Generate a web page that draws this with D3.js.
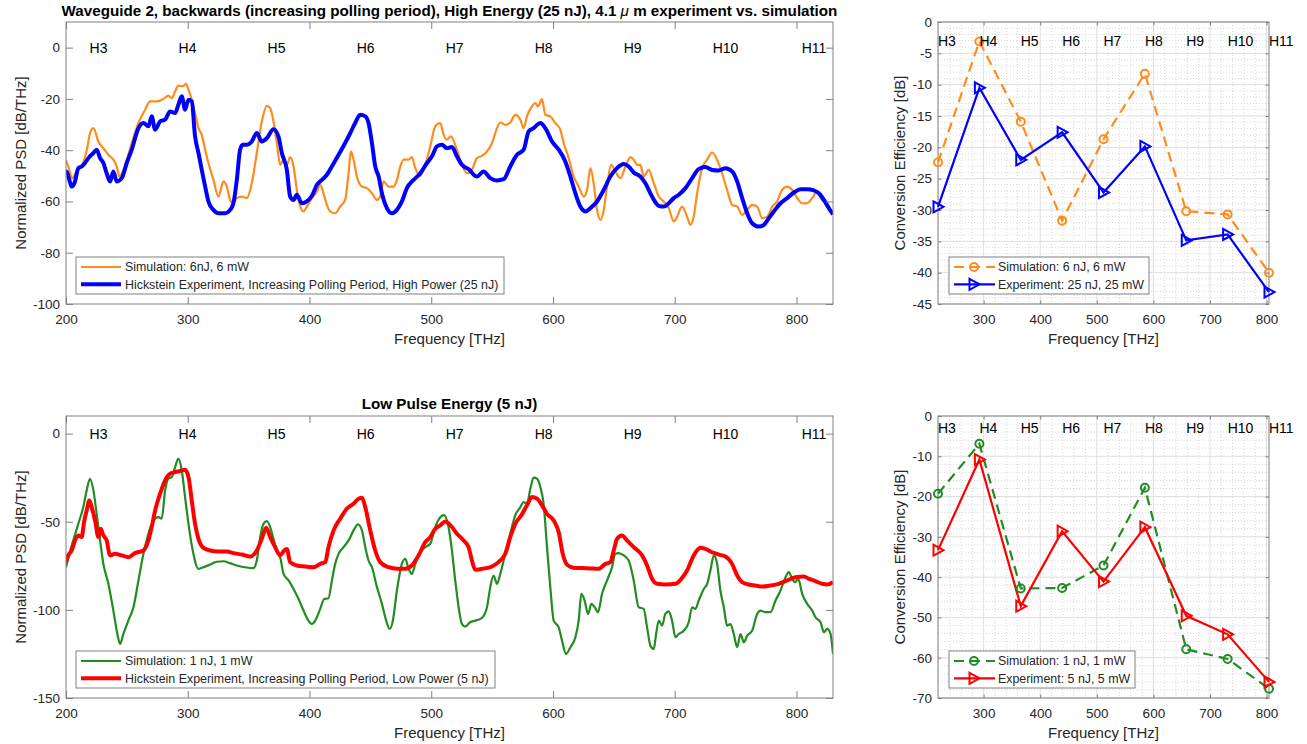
<!DOCTYPE html>
<html><head><meta charset="utf-8">
<script src="https://cdn.jsdelivr.net/npm/d3@7"></script>
<style>
body{margin:0;background:#fff}
text{font-family:"Liberation Sans",Arial,Helvetica,sans-serif}
</style>
</head><body>
<svg id="c" width="1307" height="744"></svg>
<script>
// ---------------- DATA ----------------
const harmonicLabels = ["H3","H4","H5","H6","H7","H8","H9","H10","H11"];
const harmonicFreq = [219.36, 292.48, 365.60, 438.72, 511.84, 584.96, 658.08, 731.20, 804.32];

const xTicksSpec = [200,300,400,500,600,700,800];
const yTicksSpecTop = [0,-20,-40,-60,-80,-100];
const yTicksSpecBot = [0,-50,-100,-150];
const xTicksCE = [300,400,500,600,700,800];
const yTicksCETop = [0,-5,-10,-15,-20,-25,-30,-35,-40,-45];
const yTicksCEBot = [0,-10,-20,-30,-40,-50,-60,-70];

// Conversion efficiency (dB) at H3..H11
const ceSimHigh = [-22.4, -3.1, -15.9, -31.7, -18.7, -8.25, -30.2, -30.7, -40.0];
const ceExpHigh = [-29.5, -10.5, -22.0, -17.6, -27.2, -19.85, -34.85, -33.9, -43.1];
const ceSimLow  = [-19.3, -6.9, -42.8, -42.7, -37.1, -17.8, -57.9, -60.3, -67.7];
const ceExpLow  = [-33.3, -10.8, -47.2, -28.6, -41.1, -27.6, -49.6, -54.2, -66.0];

// Spectra [frequency THz, PSD dB/THz]
const simHigh = [[200,-44],[202,-46.5],[205,-51],[208,-49],[211,-47],[214,-45],[217,-40],[220,-33],[222.5,-31.4],[226.6,-36.6],[230.7,-39.2],[234.8,-41.8],[238.9,-43.7],[241.7,-46.4],[243.8,-50.3],[246,-49],[249.9,-43.7],[254,-37.2],[259.5,-29.4],[265,-24.2],[269,-21],[274.5,-21],[280,-20.05],[284.1,-18.7],[286.9,-19.7],[289.6,-17.1],[292.3,-14.85],[295.9,-15.1],[298.6,-14.1],[300.6,-16.4],[303.3,-20.3],[306,-25.5],[308.8,-31.4],[311.5,-34],[314.3,-39.8],[317,-45],[321.1,-51.6],[325.2,-58.1],[329.3,-52.2],[332.1,-54.2],[334.8,-59.4],[337.5,-60.7],[340.3,-58.7],[344.4,-58.1],[348.5,-58.7],[352.6,-52.9],[356.7,-41.1],[360.8,-28.8],[365,-22.7],[367.7,-23.6],[370.4,-28.8],[373.2,-37.2],[375.9,-45.7],[378.7,-43.7],[381.4,-45.7],[384.1,-42.7],[386.9,-46.35],[389.6,-55.5],[392.4,-62],[395.1,-63.9],[397.8,-62],[402,-58.7],[406.1,-56.1],[408.8,-53.5],[411.5,-56.8],[414.3,-61.3],[417,-63.9],[421.1,-64.6],[425.2,-62],[429.3,-59.4],[432.1,-49],[434,-40.5],[436.2,-43.7],[438.9,-50.3],[443.1,-54.2],[447.2,-54.8],[451.3,-56.8],[455.4,-59.4],[458.1,-58.1],[460.9,-52.2],[465,-54.2],[469.1,-54.2],[471.8,-51.6],[474.6,-46.35],[477.3,-43.7],[481.4,-43.7],[484.1,-42.7],[486.9,-47],[491,-50],[495.1,-45.7],[499.2,-38.5],[503.3,-30.7],[507.4,-29.4],[510.2,-34],[512.9,-35.9],[516,-34.6],[521.1,-39.8],[525.2,-45.7],[529.3,-49],[533.4,-47.7],[537.5,-43.1],[541.6,-42.2],[545.8,-40.5],[549.9,-37.2],[554,-31.4],[556.7,-29.2],[560.8,-30.1],[564.9,-29.2],[569,-26.2],[573.2,-28.1],[575.9,-31.4],[578.6,-26.8],[582.7,-22.9],[585.5,-21.6],[587.7,-22.9],[591,-20.05],[593.7,-26.2],[597.8,-26.8],[601.9,-29.4],[606,-32],[608.8,-37.2],[612.9,-43.1],[617,-50.3],[621.1,-54.2],[625.2,-58.1],[628,-55.5],[630.7,-47],[633.4,-52.9],[636.2,-63.3],[638.9,-67.2],[641.7,-63.3],[644.4,-54.2],[647.7,-45.7],[651.2,-48.3],[655.4,-50.9],[659.5,-46.4],[663.6,-42.7],[666.3,-43.7],[669.1,-45.7],[671.8,-45.7],[674.5,-50.3],[678.6,-47.7],[682.8,-52.9],[686.9,-58.1],[691,-60],[695.1,-62.6],[699.2,-67.8],[702,-65.9],[706,-62],[710.1,-65.9],[712.9,-69.1],[715.6,-65.9],[718.4,-56.8],[722.5,-47],[726.6,-43.7],[730.7,-40.9],[734.8,-43.7],[738.9,-49],[743,-55.5],[747.1,-61.3],[751.3,-62],[755.4,-65.2],[759.5,-63.3],[763.6,-61.3],[767.7,-62],[771.8,-66.5],[776,-65.9],[780.1,-62],[784.1,-60],[788.2,-55.5],[792.4,-54.2],[796.5,-55.5],[800.6,-58.7],[804.7,-60.7],[808.8,-60.7],[812.9,-58.7],[817,-56.1],[819.8,-58.7],[823.9,-60.7],[830,-65]];

const expHigh = [[200,-50],[200.5,-48.3],[202.7,-51.6],[204.7,-54.2],[207.4,-52.2],[210.1,-47],[212.9,-46.35],[215.6,-45],[218.4,-43.1],[222.5,-41.1],[225.2,-39.8],[228,-43.1],[230.7,-45],[233.4,-49],[236.2,-52.2],[238.9,-48.3],[241.7,-52.2],[245.8,-50.9],[249.9,-45],[254,-39.8],[259.5,-31.4],[263.6,-29.4],[267.7,-30.7],[270.4,-26.8],[273.2,-32],[277.3,-28.8],[281.4,-28.1],[285.5,-24.9],[289.6,-25.5],[292.3,-22.3],[295.1,-19],[297.8,-24.2],[300.6,-20.3],[303.3,-21],[306,-34.6],[308.8,-41.1],[311.5,-47.7],[314.3,-54.2],[317,-60],[321.1,-63.3],[325.2,-64.6],[330.7,-64.6],[334.8,-63.3],[337.5,-60.7],[340.3,-51.6],[343,-39.8],[345.2,-37.9],[348.5,-37.9],[352.6,-36.6],[356.7,-33.3],[360.8,-36.6],[365,-35.3],[370.4,-31.8],[374.5,-34.6],[377.3,-41.1],[381.4,-47.7],[384.1,-58.1],[386.9,-59.4],[389.6,-57.4],[393.7,-60.7],[397.8,-60],[402,-57.8],[406.1,-53.5],[410.2,-51.6],[414.3,-49.6],[418.4,-46.35],[423.9,-41.8],[429.3,-37.2],[433.5,-33.3],[437.5,-29.4],[441.7,-26.2],[445.8,-26.8],[448.5,-29.4],[451.3,-37.2],[454,-46.35],[456.8,-50.3],[459.5,-56.8],[463.6,-62.6],[467.7,-64.6],[471.8,-63.3],[475.9,-60],[480,-54.8],[485.5,-51.6],[491,-49],[496.5,-45],[500.6,-42.4],[504.7,-38.5],[508.8,-37.9],[512.9,-39.2],[517,-38.8],[521.1,-42.4],[525.2,-45.7],[530.7,-47.4],[537.5,-50.3],[543,-48.3],[548.5,-50.9],[554,-51.8],[559.5,-51.3],[564.9,-46.35],[570.4,-41.8],[575.9,-39.8],[580,-32.7],[584.1,-31.4],[589.6,-29.4],[593.7,-31.4],[599.2,-36.6],[604.7,-39.8],[610.1,-44.4],[614.3,-50.3],[618.4,-56.8],[622.5,-62],[626.6,-63.9],[630.7,-62.6],[636.2,-60],[641.7,-55.5],[647.1,-50.3],[652.6,-47],[658.1,-45.4],[662.2,-46.4],[666.3,-48.7],[671.8,-50.3],[675.9,-52.9],[681.4,-58.1],[686.9,-61.7],[691,-62],[695.1,-60.7],[699.2,-58.7],[703.3,-57.4],[708.8,-54.8],[714.3,-50.9],[719.7,-47.4],[725.2,-46.6],[730.7,-47.7],[736.2,-47.9],[741.7,-47],[747.1,-48.3],[751.3,-52.2],[755.4,-58.7],[759.5,-64.6],[763.6,-68.5],[769.1,-69.8],[773.2,-69.1],[777.3,-66.5],[781.4,-63.9],[786.9,-60.7],[792.4,-58.7],[797.9,-56.5],[803.4,-55.2],[808.8,-55.2],[814.3,-55.7],[818.4,-56.8],[822.5,-59.4],[826.6,-62.6],[830,-65]];

const simLow = [[200,-76],[201.9,-70.1],[206,-60.6],[210.1,-51.2],[214.2,-41.7],[217,-32.2],[219.7,-25.6],[222.5,-32.2],[225.2,-45.5],[228,-60.6],[230.7,-73.9],[234.8,-85.2],[238.9,-100.4],[242.2,-113.7],[244.4,-119.3],[247.1,-113.7],[251.2,-106.1],[255.4,-98.5],[259.5,-83.3],[263.6,-68.2],[267.7,-56.8],[271.8,-49.3],[275.9,-47.4],[278.6,-48.3],[281.4,-32.2],[284.1,-25.6],[286.9,-24.6],[289.6,-19],[292.3,-14.2],[295.1,-20.9],[297.8,-36],[300.6,-51.2],[304.1,-66.3],[308.8,-76.7],[312.9,-75.8],[318.4,-74.3],[323.9,-72.7],[329.3,-72.4],[334.8,-73.5],[340.3,-74.8],[347.1,-75.8],[354,-76.3],[356.7,-72],[359.5,-58.7],[362.2,-51.2],[365,-49.6],[367.7,-53],[370.4,-59.7],[373.2,-66.3],[375.9,-70.1],[378.7,-79.6],[382.8,-83.3],[386.9,-88.1],[391,-93.8],[395.1,-100.4],[399.2,-106.1],[402,-108],[404.7,-106.1],[408.8,-99.4],[412.1,-93.8],[415.6,-93.4],[418.4,-83.3],[421.1,-73.9],[423.9,-68.2],[428,-64.4],[432.1,-60.6],[436.2,-54.9],[439.8,-51.5],[443.1,-54.9],[445.8,-64.4],[448.5,-72],[451.3,-75.8],[455.4,-87.1],[459.5,-96.6],[463,-106.1],[465.8,-110.8],[468.5,-106.1],[471.8,-89],[475.9,-73.9],[478.7,-71],[481.4,-76.7],[484.1,-79.6],[486.9,-73.9],[491,-67.3],[495.1,-64.4],[499.2,-62.5],[503.3,-53],[507.4,-47.4],[510.5,-46.2],[514.2,-53],[517,-66.3],[519.7,-83.3],[522.5,-98.5],[525.2,-108],[527.9,-109.5],[532,-107],[536.2,-106.1],[541.6,-104.6],[545.8,-98.5],[548.5,-87.1],[551.2,-80.5],[554,-85.2],[556.7,-79.6],[560.8,-68.2],[564.9,-56.8],[569,-46.4],[573.2,-41.7],[575.9,-38.8],[578.6,-39.8],[581.4,-31.3],[584.1,-25],[586.9,-25.6],[589.6,-30.3],[592.3,-39.8],[595.1,-64.4],[597.8,-87.1],[600.6,-106.1],[604.7,-109.9],[607.4,-117.4],[610.7,-125],[614.3,-121.2],[618.4,-115.5],[621.1,-106.1],[623.3,-90.9],[626,-94.7],[628.8,-102.3],[631.5,-96.6],[634.3,-98.5],[637,-101.3],[640.3,-90.9],[644.4,-83.3],[648.5,-75.8],[651.2,-68.2],[653.9,-67.8],[658.1,-69.1],[662.2,-72],[666.3,-83.3],[670.4,-98.5],[674.5,-99.4],[677.3,-109.9],[680,-120.3],[682.8,-122.2],[684.7,-113.7],[686.9,-106.1],[689.6,-108.9],[692.3,-102.3],[695.1,-100.8],[697.8,-106.1],[700.6,-115.5],[703.3,-113.7],[707.4,-111.8],[711.5,-107],[714.3,-98.5],[717,-99.4],[719.7,-94.7],[723.9,-88.1],[726.6,-85.2],[729.3,-77.7],[732.1,-69.1],[734.8,-73.9],[737.5,-89],[740.3,-98.5],[743,-108.9],[745.8,-108],[748.5,-113.7],[751.3,-121.2],[754,-113.7],[756.8,-118.4],[759.5,-114.6],[763.6,-111.8],[767.7,-102.3],[770.4,-100.4],[774.5,-101.3],[778.7,-101.3],[782.8,-94.7],[786.9,-89],[791,-81.5],[793.7,-78.6],[796.5,-82.4],[798.7,-84.3],[801.4,-82.4],[804.7,-90.9],[808.8,-96.6],[812.9,-100.4],[815.6,-104.2],[819.8,-107],[822.5,-112.7],[825.2,-110.8],[828,-113.7],[830,-125]];

const expLow = [[200,-73],[201.9,-69.1],[204.7,-66.3],[207.4,-60.6],[210.1,-57.8],[212.9,-58.7],[214.8,-50.2],[217,-43.6],[219.2,-37.9],[221.1,-41.7],[223.9,-49.3],[226.6,-58.7],[228.5,-54],[230.7,-57.8],[233.4,-60.6],[236.2,-69.1],[240.3,-68.2],[245.8,-69.1],[251.2,-70.1],[256.7,-67.8],[263.6,-66.3],[267.7,-60.6],[270.4,-53],[273.2,-43.6],[277.3,-34.1],[281.4,-26.5],[285.5,-22.7],[289.6,-21.8],[293.7,-21.2],[297.8,-20.5],[300.6,-24.6],[303.3,-37.9],[306,-51.2],[308.8,-59.7],[312.9,-64.8],[318.4,-66.3],[325.2,-66.9],[332.1,-66.9],[337.5,-67.8],[344.4,-68.6],[351.2,-69.7],[356.7,-66.3],[360.8,-59.7],[364.4,-53.4],[367.7,-58.7],[371.8,-64.4],[375.9,-69.1],[379.2,-66.3],[381.4,-65.4],[384.1,-72.9],[389.6,-74.8],[396.5,-75.4],[403.3,-75.8],[408.8,-73.9],[412.9,-72.9],[415.6,-64.4],[419.8,-54.9],[425.2,-48.3],[430.7,-42.6],[436.2,-39.8],[440.3,-36.9],[443.1,-36.4],[445.8,-41.7],[449.9,-54.9],[454,-66.3],[458.1,-72.9],[465,-75.8],[471.8,-76.7],[478.7,-76.7],[484.1,-74.8],[489.6,-69.1],[495.1,-61.6],[499.2,-58.7],[503.3,-54],[507.4,-52.1],[511.5,-49.8],[517,-53],[521.1,-56.8],[526.6,-60.6],[530.7,-64.4],[533.4,-72],[536.2,-77.3],[541.6,-76.7],[549.9,-75.4],[556.7,-72],[560.8,-68.2],[564.9,-58.7],[569,-51.2],[574.5,-45.8],[578.6,-40.7],[582.7,-36],[586.9,-36.9],[591,-40.7],[595.1,-45.5],[600.6,-49.3],[604.7,-55.9],[608,-68.2],[611.5,-74.3],[617,-76.1],[623.8,-76.3],[630.7,-76.5],[637.5,-76.7],[643,-73.9],[647.1,-72.9],[649.9,-66.3],[652.6,-59.7],[656.7,-57.8],[660.8,-60.6],[666.3,-64.4],[673.2,-69.1],[677.3,-74.8],[681.4,-82.4],[685.5,-85.2],[692.3,-85.6],[700.6,-85.2],[704.7,-83],[710.1,-77.7],[715.6,-69.1],[721.1,-64.8],[725.2,-65.4],[730.7,-67.3],[736.2,-68.6],[741.7,-69.7],[747.1,-73.9],[751.3,-80.5],[755.4,-84.3],[760.8,-85.6],[766.3,-86.2],[771.8,-86.8],[778.7,-86.2],[785.5,-85.2],[792.4,-83.3],[799.2,-81.5],[806.1,-81.1],[810.2,-82.4],[815.6,-83.7],[821.1,-85.2],[825.2,-85.6],[830,-84.3]];

// ---------------- DRAWING ----------------
const svg = d3.select("#c");
const C_ORANGE = "#ff8c1a", C_BLUE = "#0000ff", C_GREEN = "#228b22", C_RED = "#ff0000";
const AX = "#262626", FRAME = "#808080";
const fmt = d => String(d);

function axes(g, X, Y, xt, yt, tl, pad) {
  const [x0, x1] = X.range(), [y1, y0] = Y.range();
  const style = sel => {
    sel.select(".domain").remove();
    sel.selectAll(".tick line").attr("stroke", FRAME).attr("stroke-width", 1);
    sel.selectAll(".tick text").attr("fill", AX).style("font-size", "13.5px")
      .style("font-family", '"Liberation Sans",Arial,sans-serif');
  };
  g.append("g").attr("transform", `translate(0,${y1})`)
    .call(d3.axisBottom(X).tickValues(xt).tickSize(-tl).tickPadding(10).tickFormat(fmt)).call(style);
  g.append("g").attr("transform", `translate(0,${y0})`)
    .call(d3.axisTop(X).tickValues(xt).tickSize(-tl).tickFormat("")).call(style);
  g.append("g").attr("transform", `translate(${x0},0)`)
    .call(d3.axisLeft(Y).tickValues(yt).tickSize(-tl).tickPadding(pad).tickFormat(fmt)).call(style);
  g.append("g").attr("transform", `translate(${x1},0)`)
    .call(d3.axisRight(Y).tickValues(yt).tickSize(-tl).tickFormat("")).call(style);
  g.append("rect").attr("x", x0).attr("y", y0).attr("width", x1 - x0).attr("height", y1 - y0)
    .attr("fill", "none").attr("stroke", FRAME).attr("stroke-width", 1);
}

function labels(g, cx, cy, xlab, ylabX, ylab, ybase) {
  g.append("text").attr("x", cx).attr("y", ybase).attr("text-anchor", "middle")
    .style("font-size", "15px").attr("fill", AX).text(xlab);
  g.append("text").attr("transform", `translate(${ylabX},${cy}) rotate(-90)`).attr("text-anchor", "middle")
    .style("font-size", "15px").attr("fill", AX).text(ylab);
}

function spectrumPanel(id, x0, x1, y0, y1, ydom, yt, sim, exp, simColor, expColor, legendTexts, legendW) {
  const g = svg.append("g");
  const X = d3.scaleLinear().domain([200, 830]).range([x0, x1]);
  const Y = d3.scaleLinear().domain(ydom).range([y1, y0]);
  g.append("clipPath").attr("id", id).append("rect").attr("x", x0).attr("y", y0).attr("width", x1 - x0).attr("height", y1 - y0);
  const line = d3.line().x(d => X(d[0])).y(d => Y(d[1])).curve(d3.curveMonotoneX);
  const pg = g.append("g").attr("clip-path", `url(#${id})`);
  pg.append("path").datum(sim).attr("d", line).attr("fill", "none").attr("stroke", simColor).attr("stroke-width", 2.2).attr("stroke-linejoin", "round");
  pg.append("path").datum(exp).attr("d", line).attr("fill", "none").attr("stroke", expColor).attr("stroke-width", 4).attr("stroke-linejoin", "round");
  axes(g, X, Y, xTicksSpec, yt, 7, 6);
  g.selectAll(".hl").data(harmonicLabels).join("text")
    .attr("x", (d, i) => X(harmonicFreq[i])).attr("y", Y(0)).attr("dy", "0.36em")
    .style("font-size", "14px").attr("fill", "#000").text(d => d);
  labels(g, (x0 + x1) / 2, (y0 + y1) / 2, "Frequency [THz]", 25.5, "Normalized PSD [dB/THz]", y1 + 40);
  const lx = x0 + 10, ly = y1 - 47;
  const lg = g.append("g");
  lg.append("rect").attr("x", lx).attr("y", ly).attr("width", legendW).attr("height", 37)
    .attr("fill", "#fff").attr("stroke", FRAME).attr("stroke-width", 1);
  [[simColor, 2.2, legendTexts[0], 10], [expColor, 4, legendTexts[1], 27.3]].forEach(([c, w, t, dy]) => {
    lg.append("line").attr("x1", lx + 5).attr("x2", lx + 45).attr("y1", ly + dy).attr("y2", ly + dy)
      .attr("stroke", c).attr("stroke-width", w);
    lg.append("text").attr("x", lx + 49).attr("y", ly + dy).attr("dy", "0.36em")
      .style("font-size", "12.4px").attr("fill", AX).text(t);
  });
  return g;
}

function cePanel(x0, x1, y0, y1, ydom, yt, minorY, sim, exp, simColor, expColor, legendTexts, legendW) {
  const g = svg.append("g");
  const X = d3.scaleLinear().domain([harmonicFreq[0], harmonicFreq[8]]).range([x0, x1]);
  const Y = d3.scaleLinear().domain(ydom).range([y1, y0]);
  const minorX = d3.range(220, 805, 20).filter(v => v % 100 !== 0);
  const minorYv = d3.range(ydom[0], ydom[1] + 0.001, minorY).filter(v => !yt.includes(v));
  g.selectAll(".mgx").data(minorX).join("line").attr("x1", d => X(d)).attr("x2", d => X(d)).attr("y1", y0).attr("y2", y1)
    .attr("stroke", "#c8c8c8").attr("stroke-width", 0.7).attr("stroke-dasharray", "1,2");
  g.selectAll(".mgy").data(minorYv).join("line").attr("y1", d => Y(d)).attr("y2", d => Y(d)).attr("x1", x0).attr("x2", x1)
    .attr("stroke", "#c8c8c8").attr("stroke-width", 0.7).attr("stroke-dasharray", "1,2");
  g.selectAll(".gx").data(xTicksCE).join("line").attr("x1", d => X(d)).attr("x2", d => X(d)).attr("y1", y0).attr("y2", y1)
    .attr("stroke", "#dedede").attr("stroke-width", 1);
  g.selectAll(".gy").data(yt).join("line").attr("y1", d => Y(d)).attr("y2", d => Y(d)).attr("x1", x0).attr("x2", x1)
    .attr("stroke", "#dedede").attr("stroke-width", 1);
  axes(g, X, Y, xTicksCE, yt, 3.5, 6);
  const pts = v => v.map((d, i) => [harmonicFreq[i], d]);
  const line = d3.line().x(d => X(d[0])).y(d => Y(d[1]));
  g.append("path").datum(pts(sim)).attr("d", line).attr("fill", "none").attr("stroke", simColor)
    .attr("stroke-width", 2.2).attr("stroke-dasharray", "10,6");
  g.append("path").datum(pts(exp)).attr("d", line).attr("fill", "none").attr("stroke", expColor).attr("stroke-width", 2.2);
  const tri = (cx, cy) => `M${cx - 4.5},${cy - 5.5}L${cx + 5.5},${cy}L${cx - 4.5},${cy + 5.5}Z`;
  g.selectAll(".mc").data(pts(sim)).join("circle").attr("cx", d => X(d[0])).attr("cy", d => Y(d[1])).attr("r", 4)
    .attr("fill", "none").attr("stroke", simColor).attr("stroke-width", 2);
  g.selectAll(".mt").data(pts(exp)).join("path").attr("d", d => tri(X(d[0]), Y(d[1])))
    .attr("fill", "none").attr("stroke", expColor).attr("stroke-width", 2).attr("stroke-linejoin", "miter");
  g.selectAll(".hl").data(harmonicLabels).join("text")
    .attr("x", (d, i) => X(harmonicFreq[i])).attr("y", Y(-3)).attr("dy", "0.36em")
    .style("font-size", "14px").attr("fill", "#000").text(d => d);
  labels(g, (x0 + x1) / 2, (y0 + y1) / 2, "Frequency [THz]", 905, "Conversion Efficiency [dB]", y1 + 40);
  const lx = x0 + 11, ly = y1 - 47;
  const lg = g.append("g");
  lg.append("rect").attr("x", lx).attr("y", ly).attr("width", legendW).attr("height", 37)
    .attr("fill", "#fff").attr("stroke", FRAME).attr("stroke-width", 1);
  const r1 = ly + 10, r2 = ly + 27.3;
  lg.append("line").attr("x1", lx + 5).attr("x2", lx + 46).attr("y1", r1).attr("y2", r1)
    .attr("stroke", simColor).attr("stroke-width", 2.2).attr("stroke-dasharray", "10,6");
  lg.append("circle").attr("cx", lx + 25).attr("cy", r1).attr("r", 4).attr("fill", "none").attr("stroke", simColor).attr("stroke-width", 2);
  lg.append("line").attr("x1", lx + 5).attr("x2", lx + 46).attr("y1", r2).attr("y2", r2)
    .attr("stroke", expColor).attr("stroke-width", 2.2);
  lg.append("path").attr("d", tri(lx + 25, r2)).attr("fill", "none").attr("stroke", expColor).attr("stroke-width", 2);
  lg.append("text").attr("x", lx + 49).attr("y", r1).attr("dy", "0.36em").style("font-size", "12.4px").attr("fill", AX).text(legendTexts[0]);
  lg.append("text").attr("x", lx + 49).attr("y", r2).attr("dy", "0.36em").style("font-size", "12.4px").attr("fill", AX).text(legendTexts[1]);
}

spectrumPanel("clipTop", 66, 833, 22, 304, [-100, 10], yTicksSpecTop, simHigh, expHigh, C_ORANGE, C_BLUE,
  ["Simulation: 6nJ, 6 mW", "Hickstein Experiment, Increasing Polling Period, High Power (25 nJ)"], 428);
spectrumPanel("clipBot", 66, 833, 416, 698, [-150, 10], yTicksSpecBot, simLow, expLow, C_GREEN, C_RED,
  ["Simulation: 1 nJ, 1 mW", "Hickstein Experiment, Increasing Polling Period, Low Power (5 nJ)"], 419);

cePanel(938, 1269, 22, 304, [-45, 0], yTicksCETop, 1, ceSimHigh, ceExpHigh, C_ORANGE, C_BLUE,
  ["Simulation: 6 nJ, 6 mW", "Experiment: 25 nJ, 25 mW"], 200);
cePanel(938, 1269, 416, 698, [-70, 0], yTicksCEBot, 2, ceSimLow, ceExpLow, C_GREEN, C_RED,
  ["Simulation: 1 nJ, 1 mW", "Experiment: 5 nJ, 5 mW"], 186);

// titles
const t1 = svg.append("text").attr("x", 449.5).attr("y", 16).attr("text-anchor", "middle")
  .style("font-size", "15.2px").style("font-weight", "bold").attr("fill", "#000");
t1.append("tspan").text("Waveguide 2, backwards (increasing polling period), High Energy (25 nJ), 4.1 ");
t1.append("tspan").style("font-style", "italic").style("font-weight", "normal").text("\u03bc");
t1.append("tspan").text(" m experiment vs. simulation");
svg.append("text").attr("x", 449.5).attr("y", 409).attr("text-anchor", "middle")
  .style("font-size", "15.2px").style("font-weight", "bold").attr("fill", "#000").text("Low Pulse Energy (5 nJ)");
</script>
</body></html>
